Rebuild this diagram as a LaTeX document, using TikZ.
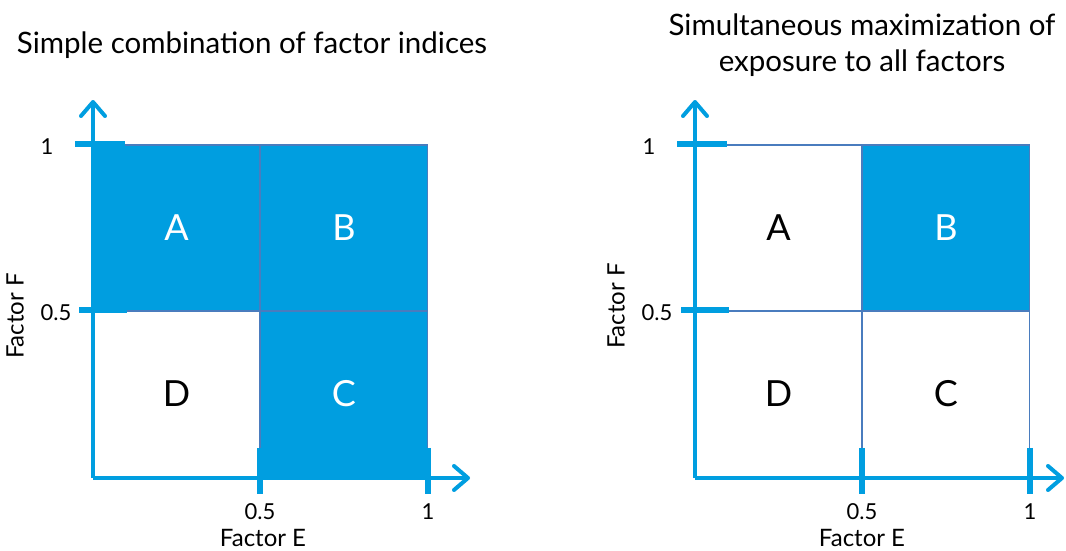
\documentclass[tikz,border=0pt]{standalone}
\usepackage{fontspec}
\setmainfont{Lato}
\usetikzlibrary{arrows.meta}
\definecolor{factorblue}{RGB}{0,158,224}
\definecolor{gridblue}{RGB}{74,124,190}
\tikzset{
  cellbox/.style={draw=gridblue, line width=1.5pt, minimum width=167pt, minimum height=166pt, inner sep=0pt, font=\fontsize{36}{40}\selectfont},
  filled/.style={fill=factorblue, text=white},
  axis/.style={draw=factorblue, line width=4pt, -{Straight Barb[length=14pt, width=24pt, line cap=round, line join=round]}},
  tickmark/.style={draw=factorblue, line width=6pt},
  ticknum/.style={font=\fontsize{22}{26}\selectfont, inner sep=0pt},
  ticklabel/.style={font=\fontsize{24}{28}\selectfont, inner sep=0pt},
  titletext/.style={font=\fontsize{29.5}{36}\selectfont, align=center},
}

\begin{document}
\begin{tikzpicture}[x=1pt, y=-1pt]
\useasboundingbox (0,0) rectangle (1066,551);

% Left panel: simple combination
\node[titletext] (titleL) at (252,45) {Simple combination of factor indices};

% Cells
\node[cellbox, filled] (cellA) at (176.5,228) {A};
\node[cellbox, filled] (cellB) at (344,228) {B};
\node[cellbox, filled] (cellC) at (344,394) {C};
\node[cellbox] (cellD) at (176.5,394) {D};

% Axes
\coordinate (origL) at (93,478);
\coordinate (ytipL) at (93,100);
\coordinate (xtipL) at (470,478);
\draw[axis] (origL) -- (ytipL);
\draw[axis] (origL) -- (xtipL);

% Ticks
\draw[tickmark] ([xshift=-17pt]cellA.north west) -- ([xshift=33pt]cellA.north west);
\draw[tickmark] ([xshift=-13pt]cellD.north west) -- ([xshift=35pt]cellD.north west);
\draw[tickmark] ([yshift=30pt]cellC.south west) -- ([yshift=-16pt]cellC.south west);
\draw[tickmark] ([yshift=30pt]cellC.south east) -- ([yshift=-16pt]cellC.south east);

% Tick labels
\node[ticknum] (y1L) at (47,147) {1};
\node[ticknum] (y05L) at (56,313) {0.5};
\node[ticknum] (x05L) at (260,512) {0.5};
\node[ticknum] (x1L) at (428,512) {1};
\node[ticklabel] (xlabL) at (263,538) {Factor E};
\node[ticklabel, rotate=90] (ylabL) at (15,316) {Factor F};

% Right panel: simultaneous maximization
\begin{scope}[xshift=602pt]
\node[titletext] (titleR) at (260,45) {Simultaneous maximization of\\exposure to all factors};

% Cells
\node[cellbox] (cellA2) at (176.5,228) {A};
\node[cellbox, filled] (cellB2) at (344,228) {B};
\node[cellbox] (cellC2) at (344,394) {C};
\node[cellbox] (cellD2) at (176.5,394) {D};

% Axes
\coordinate (origR) at (93,478);
\coordinate (ytipR) at (93,100);
\coordinate (xtipR) at (462,478);
\draw[axis] (origR) -- (ytipR);
\draw[axis] (origR) -- (xtipR);

% Ticks
\draw[tickmark] ([xshift=-17pt]cellA2.north west) -- ([xshift=33pt]cellA2.north west);
\draw[tickmark] ([xshift=-13pt]cellD2.north west) -- ([xshift=35pt]cellD2.north west);
\draw[tickmark] ([yshift=30pt]cellC2.south west) -- ([yshift=-16pt]cellC2.south west);
\draw[tickmark] ([yshift=30pt]cellC2.south east) -- ([yshift=-16pt]cellC2.south east);

% Tick labels
\node[ticknum] (y1R) at (47,147) {1};
\node[ticknum] (y05R) at (55,313) {0.5};
\node[ticknum] (x05R) at (260,512) {0.5};
\node[ticknum] (x1R) at (428,512) {1};
\node[ticklabel] (xlabR) at (260,538) {Factor E};
\node[ticklabel, rotate=90] (ylabR) at (14,306) {Factor F};
\end{scope}

\end{tikzpicture}
\end{document}
